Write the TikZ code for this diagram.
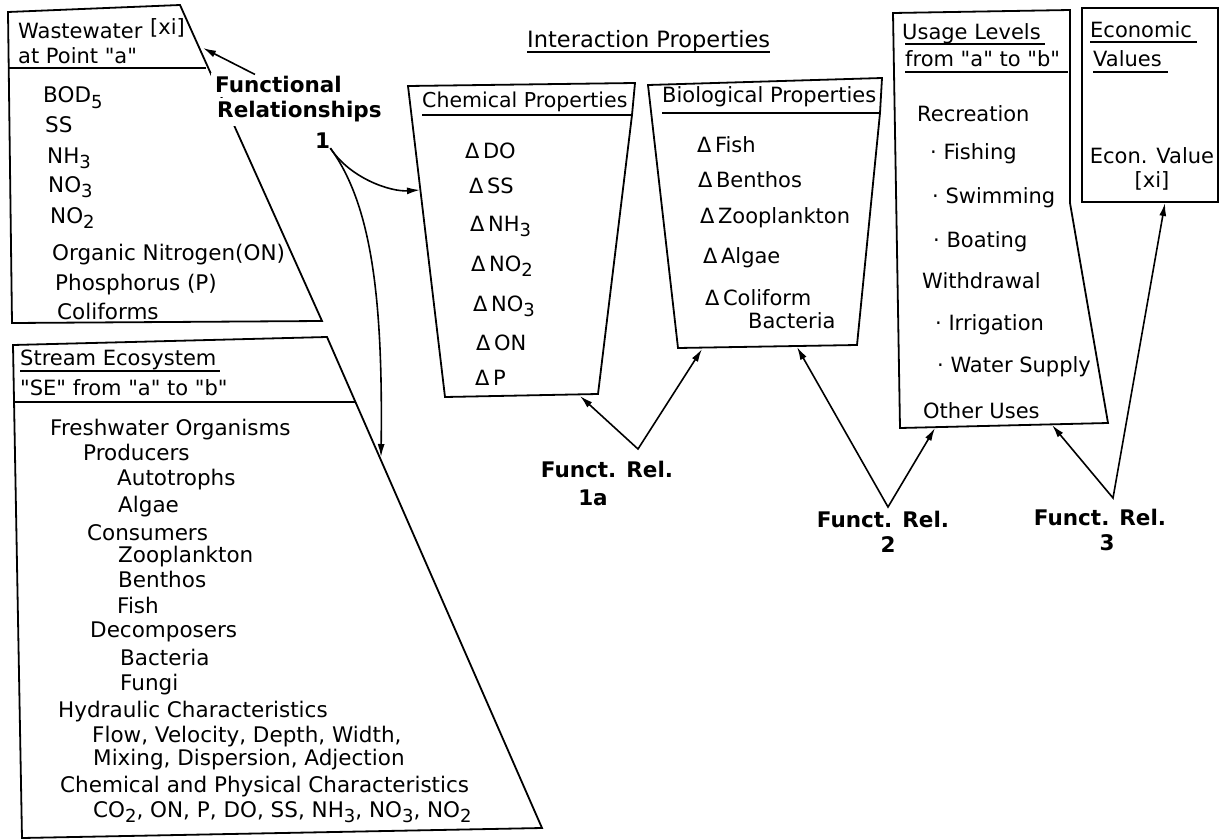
\documentclass[tikz,border=0pt]{standalone}
\usepackage{fontspec}
\setmainfont{DejaVu Sans}[Ligatures=TeXOff]
\usetikzlibrary{arrows.meta}
\newcommand{\lowsub}[1]{\raisebox{-0.5ex}{\fontsize{18}{18}\selectfont #1}}

\begin{document}
\begin{tikzpicture}[x=1pt, y=-1pt,
	box/.style={line width=1.8pt, line join=miter},
	uline/.style={line width=1.4pt},
	arr/.style={-{Latex[length=13pt,width=7pt]}, line width=1.6pt},
	dbl/.style={{Latex[length=13pt,width=7pt]}-{Latex[length=13pt,width=7pt]}, line width=1.6pt},
	txt/.style={anchor=base west, inner sep=0pt, font={\fontsize{21}{25}\selectfont}},
	item/.style={txt, font={\fontsize{21.5}{25}\selectfont}},
	big/.style={inner sep=0pt, font={\bfseries\fontsize{21.5}{25}\selectfont}}]
	\useasboundingbox (0,0) rectangle (1223,840);
	
	% 框
	\draw[box] (8,12) -- (180,5) -- (322,321) -- (12,323) -- cycle;
	\draw[uline] (8,68) -- (206,68);
	\draw[box] (13,345) -- (327,337) -- (542,828) -- (22,838) -- cycle;
	\draw[uline] (13,402) -- (355,402);
	\draw[box] (408,86) -- (635,83) -- (632,115) -- (598,394) -- (445,397) -- cycle;
	\draw[box] (648,85) -- (882,78) -- (880,113) -- (857,345) -- (678,348) -- cycle;
	\draw[box] (893,13) -- (1070,10) -- (1070,203) -- (1108,423) -- (900,428) -- cycle;
	\draw[box] (1082,8) -- (1218,8) -- (1218,202) -- (1082,202) -- cycle;
	
	% 标题
	\node[txt] (ww-t1) at (18,39) {Wastewater};
	\node[txt] (ww-t2) at (150,35) {[xi]};
	\node[txt] (ww-t3) at (18,64) {at Point "a"};
	\node[txt] (se-t1) at (20,365) {Stream Ecosystem};
	\draw[uline] ([yshift=-6pt]se-t1.base west) -- ([yshift=-6pt,xshift=3pt]se-t1.base east);
	\node[txt] (se-t2) at (20,395) {"SE" from "a" to "b"};
	\node[txt, font={\fontsize{22.5}{26}\selectfont}] (ip) at (527,48) {Interaction Properties};
	\draw[uline] ([yshift=-4pt]ip.base west) -- ([yshift=-4pt]ip.base east);
	\node[txt, font={\fontsize{20.5}{25}\selectfont}] (chem-t) at (422,108) {Chemical Properties};
	\draw[uline] ([yshift=-7pt]chem-t.base west) -- (632,115);
	\node[txt] (bio-t) at (662,103) {Biological Properties};
	\draw[uline] ([yshift=-10pt]bio-t.base west) -- (880,113);
	\node[txt] (use-t1) at (902,40) {Usage Levels};
	\draw[uline] ([yshift=-4pt,xshift=3pt]use-t1.base west) -- ([yshift=-4pt,xshift=4pt]use-t1.base east);
	\node[txt] (use-t2) at (905,67) {from "a" to "b"};
	\draw[uline] ([yshift=-5pt]use-t2.base west) -- (1068,72);
	\node[txt] (eco-t1) at (1090,38) {Economic};
	\draw[uline] ([yshift=-4pt]eco-t1.base west) -- ([yshift=-4pt,xshift=5pt]eco-t1.base east);
	\node[txt] (eco-t2) at (1093,67) {Values};
	\draw[uline] ([yshift=-5pt]eco-t2.base west) -- ([yshift=-5pt,xshift=6pt]eco-t2.base east);
	
	% 列表
	\foreach \x/\y/\t [count=\i] in {43/103/BOD\lowsub{5}, 45/132/SS, 47/163/NH\lowsub{3},
		48/192/NO\lowsub{3}, 50/223/NO\lowsub{2}, 52/260/Organic Nitrogen(ON),
		55/290/Phosphorus (P), 57/319/Coliforms}
		\node[item] (ww-\i) at (\x,\y) {\t};
	\foreach \x/\y/\t [count=\i] in {50/435/Freshwater Organisms, 83/460/Producers,
		117/485/Autotrophs, 118/512/Algae, 87/540/Consumers, 118/562/Zooplankton,
		118/587/Benthos, 117/613/Fish, 90/637/Decomposers, 120/665/Bacteria,
		120/690/Fungi, 58/717/Hydraulic Characteristics,
		92/742/{Flow, Velocity, Depth, Width,}, 93/765/{Mixing, Dispersion, Adjection},
		60/792/Chemical and Physical Characteristics,
		93/817/{CO\lowsub{2}, ON, P, DO, SS, NH\lowsub{3}, NO\lowsub{3}, NO\lowsub{2}}}
		\node[item] (se-\i) at (\x,\y) {\t};
	\foreach \x/\y/\t [count=\i] in {465/158/DO, 469/193/SS, 470/231/NH\lowsub{3},
		471/271/NO\lowsub{2}, 473/311/NO\lowsub{3}, 476/350/ON, 475/385/P}
		\node[txt] (chem-\i) at (\x,\y) {Δ\,\t};
	\foreach \x/\y/\t [count=\i] in {697/153/Fish, 698/187/Benthos, 700/223/Zooplankton,
		703/263/Algae, 705/305/Coliform}
		\node[txt] (bio-\i) at (\x,\y) {Δ\,\t};
	\node[txt] (bio-6) at (748,328) {Bacteria};
	\foreach \x/\y/\t [count=\i] in {917/122/Recreation, 930/159/· Fishing,
		932/203/· Swimming, 933/247/· Boating, 922/288/Withdrawal,
		935/330/· Irrigation, 937/372/· Water Supply, 923/418/Other Uses}
		\node[txt] (use-\i) at (\x,\y) {\t};
	\node[txt, anchor=base] (eco-v) at (1152,163) {Econ. Value};
	\node[txt, anchor=base] (eco-xi) at (1152,187) {[xi]};
	
	% 函数关系
	\node[big, anchor=base west, fill=white, inner sep=4pt] (fr-a) at (211,93) {Functional};
	\node[big, anchor=base west, fill=white, inner sep=4pt] (fr-b) at (213,118) {Relationships};
	\node[big, anchor=base west] (fr-n) at (315,148) {1};
	\node[big, anchor=base] (fr1a) at (607,477) {Funct. Rel.};
	\node[big, anchor=base] (fr1a-n) at (593,505) {1a};
	\node[big, anchor=base] (fr2) at (883,527) {Funct. Rel.};
	\node[big, anchor=base] (fr2-n) at (888,552) {2};
	\node[big, anchor=base] (fr3) at (1100,525) {Funct. Rel.};
	\node[big, anchor=base] (fr3-n) at (1107,550) {3};
	
	% 箭头端点
	\coordinate (ww-in) at (203,48);
	\coordinate (chem-in) at (420,190);
	\coordinate (se-in) at (381,457);
	\coordinate (chem-b) at (580,396);
	\coordinate (bio-l) at (702,349);
	\coordinate (bio-r) at (797,347);
	\coordinate (use-l) at (935,428);
	\coordinate (use-r) at (1052,425);
	\coordinate (eco-b) at (1165,203);
	\coordinate (a1) at (638,449);
	\coordinate (a2) at (888,507);
	\coordinate (a3) at (1113,498);
	
	% 箭头
	\draw[arr] ([xshift=44pt,yshift=-2pt]fr-a.north west) -- (ww-in);
	\draw[arr] (fr-n.south east) .. controls (350,178) and (390,192) .. (chem-in);
	\draw[arr] (fr-n.south east) .. controls (372,205) and (383,300) .. (se-in);
	\draw[dbl] (chem-b) -- (a1) -- (bio-l);
	\draw[dbl] (bio-r) -- (a2) -- (use-l);
	\draw[dbl] (use-r) -- (a3) -- (eco-b);
\end{tikzpicture}
\end{document}
